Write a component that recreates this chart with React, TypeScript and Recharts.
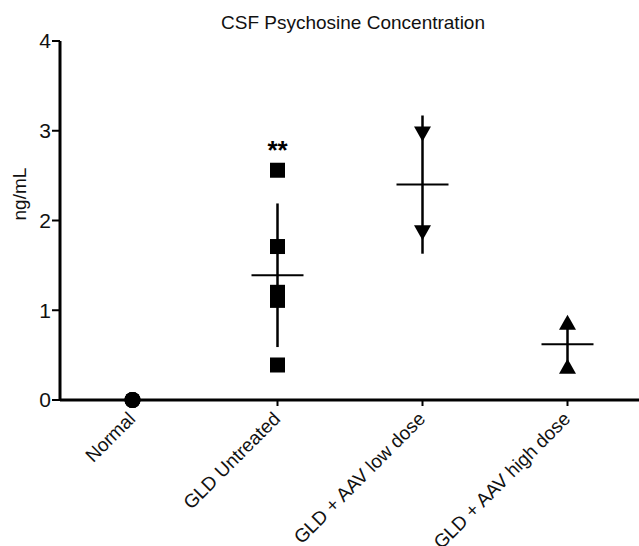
import { ScatterChart, Scatter, XAxis, YAxis, ErrorBar } from 'recharts'

const categories = ['Normal', 'GLD Untreated', 'GLD + AAV low dose', 'GLD + AAV high dose']
const normalValues = [0, 0, 0]
const untreatedValues = [2.56, 1.71, 1.2, 1.11, 0.39]
const lowDoseValues = [2.97, 1.87]
const highDoseValues = [0.86, 0.37]
const groupMeans = [0, 1.39, 2.4, 0.62]
const groupErrors = [0, 0.8, 0.77, 0.25]
const yTicks = [0, 1, 2, 3, 4]

const toPoints = (values: number[], idx: number) => values.map((y) => ({ x: idx, y }))

const meanData = groupMeans
  .map((y, i) => ({ x: i, y, err: groupErrors[i] }))
  .filter((d) => d.x > 0)

const starData = [{ x: 1, y: 2.84, label: '**' }]

const FONT = '"Liberation Sans", Arial, sans-serif'

function Square(props: any) {
  const { cx, cy } = props
  return <rect x={cx - 7.5} y={cy - 7.5} width={15} height={15} fill="#000" />
}

function TriDown(props: any) {
  const { cx, cy } = props
  return <path d={`M${cx - 8.5},${cy - 7} L${cx + 8.5},${cy - 7} L${cx},${cy + 8} Z`} fill="#000" />
}

function TriUp(props: any) {
  const { cx, cy } = props
  return <path d={`M${cx - 8.5},${cy + 7} L${cx + 8.5},${cy + 7} L${cx},${cy - 8} Z`} fill="#000" />
}

function Dot(props: any) {
  const { cx, cy } = props
  return <circle cx={cx} cy={cy} r={8} fill="#000" />
}

function MeanLine(props: any) {
  const { cx, cy } = props
  return <line x1={cx - 26} x2={cx + 26} y1={cy} y2={cy} stroke="#000" strokeWidth={2} />
}

function Stars(props: any) {
  const { cx, cy, payload } = props
  return (
    <text x={cx} y={cy + 14} textAnchor="middle" fontSize={26} fontWeight="bold" fontFamily={FONT} fill="#000">
      {payload.label}
    </text>
  )
}

function XTick(props: any) {
  const { x, y, payload } = props
  return (
    <g transform={`translate(${x + 4},${y + 12})`}>
      <text x={0} y={0} textAnchor="end" transform="rotate(-45)" fontSize={19} fontFamily={FONT} fill="#111">
        {categories[payload.value]}
      </text>
    </g>
  )
}

export default function App() {
  return (
    <div style={{ position: 'absolute', left: 0, top: 0, width: 639, height: 546, background: '#fff' }}>
      <div
        style={{
          position: 'absolute',
          left: 60,
          width: 586,
          top: 12,
          textAlign: 'center',
          fontFamily: FONT,
          fontSize: 19,
          color: '#111',
        }}
      >
        CSF Psychosine Concentration
      </div>
      <ScatterChart width={639} height={546} margin={{ top: 41, right: -1, bottom: 0, left: 0 }}>
        <XAxis
          type="number"
          dataKey="x"
          domain={[-0.5, 3.5]}
          ticks={[0, 1, 2, 3]}
          axisLine={{ stroke: '#000', strokeWidth: 3 }}
          tickLine={{ stroke: '#000', strokeWidth: 2 }}
          tickSize={6}
          tick={<XTick />}
          height={146}
        />
        <YAxis
          type="number"
          dataKey="y"
          domain={[0, 4]}
          ticks={yTicks}
          width={60}
          axisLine={{ stroke: '#000', strokeWidth: 3 }}
          tickLine={{ stroke: '#000', strokeWidth: 2 }}
          tickSize={8}
          tickMargin={1}
          tick={{ fontSize: 21, fontFamily: FONT, fill: '#111' }}
          label={{ value: 'ng/mL', angle: -90, position: 'insideLeft', offset: 19, fontSize: 19, fontFamily: FONT, fill: '#111' }}
        />
        <Scatter data={meanData} shape={<MeanLine />} isAnimationActive={false}>
          <ErrorBar dataKey="err" direction="y" width={0} stroke="#000" strokeWidth={2.5} />
        </Scatter>
        <Scatter data={toPoints(normalValues, 0)} shape={<Dot />} isAnimationActive={false} />
        <Scatter data={toPoints(untreatedValues, 1)} shape={<Square />} isAnimationActive={false} />
        <Scatter data={toPoints(lowDoseValues, 2)} shape={<TriDown />} isAnimationActive={false} />
        <Scatter data={toPoints(highDoseValues, 3)} shape={<TriUp />} isAnimationActive={false} />
        <Scatter data={starData} shape={<Stars />} isAnimationActive={false} />
      </ScatterChart>
    </div>
  )
}
